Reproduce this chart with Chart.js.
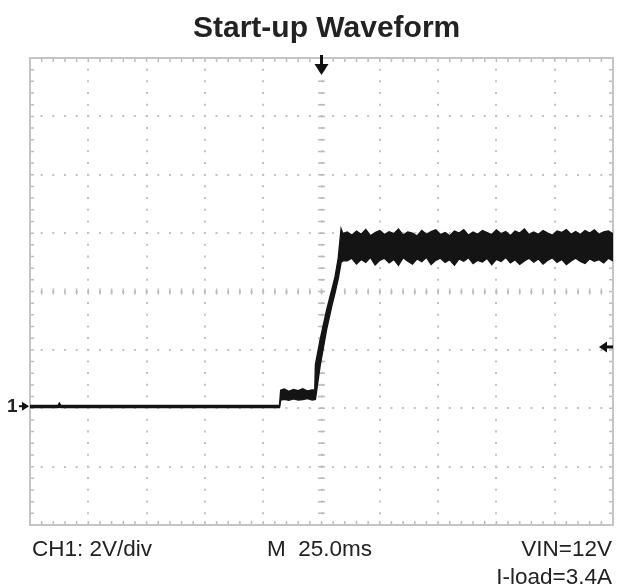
<!DOCTYPE html>
<html>
<head>
<meta charset="utf-8">
<script src="https://cdn.jsdelivr.net/npm/chart.js@4/dist/chart.umd.min.js"></script>
<style>
  body { margin: 0; background: #fff; }
  .wrap { position: relative; width: 617px; height: 588px; font-family: "Liberation Sans", Arial, sans-serif; color: #222; }
  .lbl { position: absolute; line-height: 1; white-space: nowrap; font-size: 22.5px; }
  #scope { position: absolute; left: 0; top: 0; }
</style>
</head>
<body>
<div class="wrap">
  <canvas id="scope" width="617" height="588"></canvas>
  <div class="lbl" style="left:193px; top:11.6px; font-size:30px; font-weight:bold;">Start-up Waveform</div>
  <div class="lbl" style="left:7px; top:396px; font-size:19px; font-weight:bold;">1</div>
  <div class="lbl" style="left:32px; top:538px;">CH1: 2V/div</div>
  <div class="lbl" style="left:267px; top:538px;">M&nbsp;&nbsp;25.0ms</div>
  <div class="lbl" style="right:5px; top:538px;">VIN=12V</div>
  <div class="lbl" style="right:5px; top:566px;">I-load=3.4A</div>
</div>
<script>
// time in ms (25 ms/div), voltage in V (2 V/div), trace drawn as noise envelope
const timeMs = [0, 12, 12.6, 13.2, 107, 107.5, 109, 111, 113, 115, 117, 119, 121, 122.1, 122.4, 124.4, 127.2, 129.4, 130.8, 132.2, 133.4, 134.2,
  136, 138, 140, 142, 144, 146, 148, 150, 152, 154,
  156, 158, 160, 162, 164, 166, 168, 170, 172, 174,
  176, 178, 180, 182, 184, 186, 188, 190, 192, 194,
  196, 198, 200, 202, 204, 206, 208, 210, 212, 214,
  216, 218, 220, 222, 224, 226, 228, 230, 232, 234,
  236, 238, 240, 242, 244, 246, 248, 250]

const upperV = [0.1, 0.1, 0.18, 0.1, 0.1, 0.62, 0.66, 0.58, 0.64, 0.6, 0.67, 0.59, 0.63, 0.62, 1.5, 2.34, 3.37, 4.05, 4.5, 5.15, 6.15, 5.98,
  6.04, 5.93, 6.07, 5.96, 6.12, 5.91, 6.02, 6.09, 5.95, 6.05,
  5.98, 6.14, 5.93, 6.04, 6.0, 5.9, 6.09, 5.96, 6.05, 6.11,
  5.95, 6.02, 5.91, 6.07, 6.0, 6.12, 5.93, 6.04, 5.96, 6.09,
  6.02, 5.95, 6.11, 5.98, 6.05, 5.91, 6.07, 6.0, 6.14, 5.95,
  6.04, 5.96, 6.09, 6.0, 5.93, 6.07, 6.02, 6.12, 5.96, 6.05,
  5.95, 6.09, 6.0, 6.11, 5.96, 6.04, 6.07, 5.98]

const lowerV = [0.02, 0.02, 0.04, 0.02, 0.02, 0.28, 0.31, 0.27, 0.32, 0.28, 0.3, 0.33, 0.28, 0.3, 0.31, 1.45, 2.7, 3.5, 3.95, 4.45, 5.0, 5.05,
  5.05, 5.14, 4.94, 5.1, 5.0, 5.17, 4.91, 5.07, 5.14, 4.98,
  5.1, 4.9, 5.16, 5.04, 4.94, 5.12, 5.02, 5.17, 4.93, 5.07,
  5.14, 5.0, 5.09, 4.9, 5.12, 5.04, 5.16, 4.96, 5.07, 5.01,
  5.14, 4.92, 5.1, 5.03, 5.17, 4.98, 5.09, 4.93, 5.05, 5.14,
  5.01, 5.12, 4.94, 5.07, 5.16, 5.0, 5.1, 4.92, 5.05, 5.14,
  5.03, 4.96, 5.12, 5.04, 5.09, 4.98, 5.14, 5.05]

// screen settings
const timeRange = [0, 250]
const voltRange = [-4, 12]
const msPerDiv = 25
const voltsPerDiv = 2
const triggerTimeMs = 125
const triggerLevelV = 2.1
const groundMarkerV = 0.07

const minorX = msPerDiv / 5
const minorY = voltsPerDiv / 5

const graticule = {
  id: "graticule",
  beforeDatasetsDraw(chart) {
    const { ctx, chartArea: a, scales } = chart
    const xs = scales.x
    const ys = scales.y
    ctx.save()
    ctx.strokeStyle = "#bcbcbc"
    ctx.lineWidth = 1.5
    // edge ticks
    ctx.beginPath()
    for (let t = timeRange[0]; t <= timeRange[1] + 0.01; t += minorX) {
      const px = xs.getPixelForValue(t)
      ctx.moveTo(px, a.top); ctx.lineTo(px, a.top + 4)
      ctx.moveTo(px, a.bottom); ctx.lineTo(px, a.bottom - 4)
    }
    for (let v = voltRange[0]; v <= voltRange[1] + 0.01; v += minorY) {
      const py = ys.getPixelForValue(v)
      ctx.moveTo(a.left, py); ctx.lineTo(a.left + 4, py)
      ctx.moveTo(a.right, py); ctx.lineTo(a.right - 4, py)
    }
    // centre axes ticks
    const cx = xs.getPixelForValue((timeRange[0] + timeRange[1]) / 2)
    const cy = ys.getPixelForValue((voltRange[0] + voltRange[1]) / 2)
    for (let t = timeRange[0]; t <= timeRange[1] + 0.01; t += minorX) {
      const px = xs.getPixelForValue(t)
      ctx.moveTo(px, cy - 3); ctx.lineTo(px, cy + 3)
    }
    for (let v = voltRange[0]; v <= voltRange[1] + 0.01; v += minorY) {
      const py = ys.getPixelForValue(v)
      ctx.moveTo(cx - 3.5, py); ctx.lineTo(cx + 3.5, py)
    }
    ctx.stroke()
    // frame
    ctx.strokeStyle = "#c4c4c4"
    ctx.lineWidth = 2
    ctx.strokeRect(a.left, a.top, a.right - a.left, a.bottom - a.top)
    ctx.restore()
  },
  afterDatasetsDraw(chart) {
    const { ctx, chartArea: a, scales } = chart
    ctx.save()
    ctx.fillStyle = "#111"
    // trigger position arrow (top)
    const tx = scales.x.getPixelForValue(triggerTimeMs)
    ctx.fillRect(tx - 1.5, a.top - 3, 3, 10)
    ctx.beginPath()
    ctx.moveTo(tx - 7, a.top + 6); ctx.lineTo(tx + 7, a.top + 6); ctx.lineTo(tx, a.top + 17)
    ctx.closePath(); ctx.fill()
    // trigger level arrow (right)
    const ty = scales.y.getPixelForValue(triggerLevelV)
    ctx.fillRect(a.right - 8, ty - 1.5, 8, 3)
    ctx.beginPath()
    ctx.moveTo(a.right - 14, ty); ctx.lineTo(a.right - 6, ty - 5.5); ctx.lineTo(a.right - 6, ty + 5.5)
    ctx.closePath(); ctx.fill()
    // channel 1 ground marker (left)
    const gy = scales.y.getPixelForValue(groundMarkerV)
    ctx.fillRect(a.left - 11, gy - 1, 9, 2)
    ctx.beginPath()
    ctx.moveTo(a.left - 8, gy - 4.5); ctx.lineTo(a.left - 8, gy + 4.5); ctx.lineTo(a.left - 1, gy)
    ctx.closePath(); ctx.fill()
    ctx.restore()
  },
}

const upperPoints = timeMs.map((t, i) => ({ x: t, y: upperV[i] }))
const lowerPoints = timeMs.map((t, i) => ({ x: t, y: lowerV[i] }))

new Chart(document.getElementById("scope"), {
  type: "line",
  data: {
    datasets: [
      {
        label: "CH1 upper",
        data: upperPoints,
        borderColor: "#141414",
        borderWidth: 1.4,
        pointRadius: 0,
        tension: 0,
        fill: false,
      },
      {
        label: "CH1 lower",
        data: lowerPoints,
        borderColor: "#141414",
        backgroundColor: "#141414",
        borderWidth: 1.4,
        pointRadius: 0,
        tension: 0,
        fill: "-1",
      },
    ],
  },
  options: {
    responsive: false,
    animation: false,
    layout: { padding: { left: 30, right: 4, top: 58, bottom: 63 } },
    plugins: {
      legend: { display: false },
      tooltip: { enabled: false },
      title: { display: false },
    },
    scales: {
      x: {
        type: "linear",
        min: timeRange[0],
        max: timeRange[1],
        ticks: { display: false, stepSize: msPerDiv },
        grid: { color: "#c2c2c2", lineWidth: 2, drawTicks: false },
        border: { display: false, dash: [2, 9.67], dashOffset: 1 },
      },
      y: {
        type: "linear",
        min: voltRange[0],
        max: voltRange[1],
        ticks: { display: false, stepSize: voltsPerDiv },
        grid: { color: "#c2c2c2", lineWidth: 2, drawTicks: false },
        border: { display: false, dash: [2, 9.66], dashOffset: 1 },
      },
    },
  },
  plugins: [graticule],
})
</script>
</body>
</html>
